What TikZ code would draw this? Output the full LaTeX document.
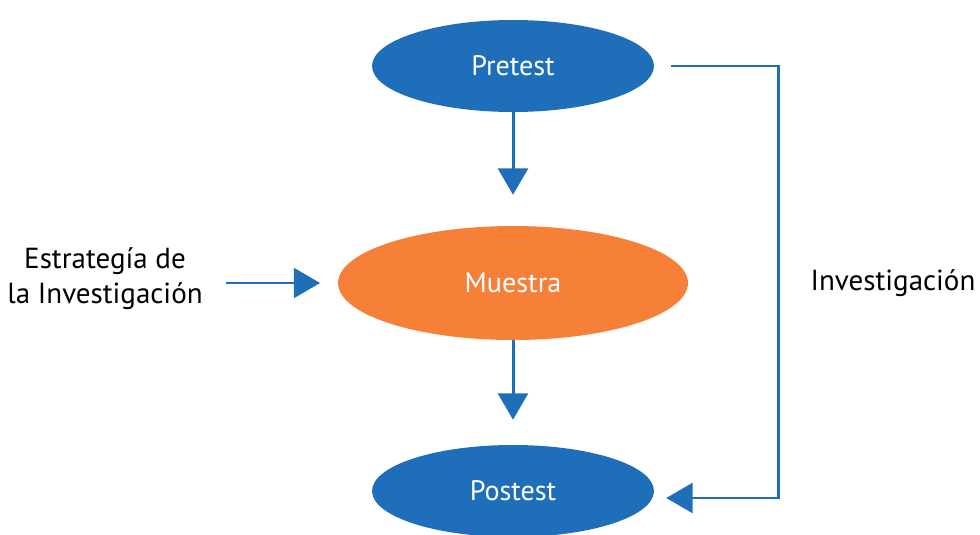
\documentclass[tikz,border=0pt]{standalone}
\usepackage{fontspec}
\setmainfont{PT Sans}
\usetikzlibrary{arrows.meta,shapes.geometric,positioning}

\definecolor{azul}{RGB}{31,110,185}
\definecolor{naranja}{RGB}{247,128,57}

\tikzset{
    etapa/.style={ellipse, fill=azul, text=white, minimum width=5.64cm, minimum height=1.84cm, font=\fontsize{16}{19}\selectfont},
    flecha/.style={draw=azul, line width=1.7pt, -{Triangle[length=15pt,width=17pt]}},
    rotulo/.style={font=\fontsize{16.5}{20}\selectfont, align=center}
}

\begin{document}
\begin{tikzpicture}[x=0.02cm, y=-0.02cm]
                    \useasboundingbox (0,0) rectangle (980,534);

                    \node[etapa] (pre) at (513,66) {Pretest};
                    \node[etapa, fill=naranja, minimum width=7cm, minimum height=2.28cm] (mue) at (513,283) {Muestra};
                    \node[etapa] (post) at (513,491) {Postest};

                    \node[rotulo] (est) at (105,279) {Estrategía de\\la Investigación};
                    \node[rotulo] (inv) at (893,283) {Investigación};

                    \coordinate (esq) at (778,66);

                    \draw[flecha, shorten >=10pt] ([xshift=0.35cm]est.east |- mue) -- (mue);
                    \draw[flecha, shorten >=17.6pt] (pre) -- (mue);
                    \draw[flecha, shorten >=14.2pt] (mue) -- (post);
                    \draw[flecha, shorten <=9.6pt, shorten >=6.8pt] (pre.east) -- (esq) |- ([yshift=-0.14cm]post.east);
                \end{tikzpicture}
\end{document}
